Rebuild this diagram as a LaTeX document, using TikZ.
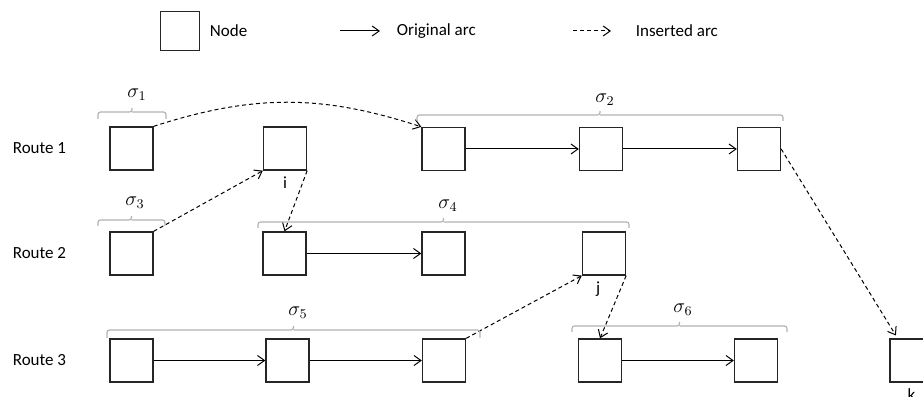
\documentclass[tikz,border=0pt]{standalone}
\usepackage{fontspec}
\setmainfont{Carlito}
\usepackage{tikz}
\usetikzlibrary{arrows.meta}

\tikzset{
  box/.style={draw=black!85, line width=0.8pt, minimum size=25.8pt, inner sep=0pt},
  orig/.style={-{Straight Barb[length=4.2pt,width=6pt]}, line width=0.6pt},
  ins/.style={orig, dash pattern=on 2.4pt off 1.8pt},
  bracket/.style={draw=black!30, line width=0.7pt, rounded corners=1.5pt},
  seg/.style={font=\fontsize{12}{14}\selectfont},
}

\begin{document}
\begin{tikzpicture}[x=0.6pt, y=0.6pt, font=\fontsize{10.2}{12}\selectfont]
\useasboundingbox (0,0) rectangle (923,-397);
% legend
\node [box, minimum size=23.4pt] (legnode) at (180,-31) {};
\node [right] (legnodetxt) at (204,-31) {Node};
\coordinate (origA) at (340,-31);
\coordinate (origB) at (380,-31);
\draw [orig] (origA) -- (origB);
\node [right] (legorig) at (391,-31) {Original arc};
\coordinate (insA) at (573,-31);
\coordinate (insB) at (611,-31);
\draw [ins] (insA) -- (insB);
\node [right] (legins) at (630,-31) {Inserted arc};
% routes
\node [right] (route1) at (7,-148.5) {Route 1};
\node [right] (route2) at (7,-253.5) {Route 2};
\node [right] (route3) at (7,-360.5) {Route 3};
% route 1
\node [box] (n11) at (131.5,-148.5) {};
\node [box] (i) at (285,-148.5) {};
\node [box] (n13) at (443.5,-149) {};
\node [box] (n14) at (601,-149) {};
\node [box] (n15) at (759,-149) {};
% route 2
\node [box] (n21) at (131.5,-253.5) {};
\node [box] (n22) at (284.5,-253.5) {};
\node [box] (n23) at (443.5,-253.5) {};
\node [box] (j) at (604,-253.5) {};
% route 3
\node [box] (n31) at (131.5,-360.5) {};
\node [box] (n32) at (287.5,-360.5) {};
\node [box] (n33) at (444,-360.5) {};
\node [box] (n34) at (600,-360.5) {};
\node [box] (n35) at (756,-360.5) {};
\node [box] (k) at (911.5,-360.5) {};
% i, j, k
\node [below] (ilab) at (i.south) {i};
\node [below] (jlab) at ([xshift=-3.5pt]j.south) {j};
\node [below] (klab) at (k.south) {k};
% arcs
\draw [ins] (n11.north east) to [bend left=18] (n13.north west);
\draw [orig] (n13) -- (n14);
\draw [orig] (n14) -- (n15);
\draw [ins, shorten >=2pt] (n15.east) -- ([xshift=5pt]k.north west);
\draw [ins] (n21.north east) -- (i.south west);
\draw [ins] (i.south east) -- (n22.north);
\draw [orig] (n22) -- (n23);
\draw [orig] (n31) -- (n32);
\draw [orig] (n32) -- (n33);
\draw [ins] (n33.north east) -- (j.south west);
\draw [ins] (j.south east) -- (n34.north);
\draw [orig] (n34) -- (n35);
% segments
\draw [bracket] (98,-119) |- (132,-112) -- (132,-108) (132,-112) -| (166,-119);
\node [seg] (s1) at (137,-95) {$\sigma_1$};
\draw [bracket] (417,-121) |- (600,-115) -- (600,-111) (600,-115) -| (783,-121);
\node [seg] (s2) at (605,-100) {$\sigma_2$};
\draw [bracket] (98,-226) |- (131.5,-220) -- (131.5,-216) (131.5,-220) -| (165,-226);
\node [seg] (s3) at (135,-203) {$\sigma_3$};
\draw [bracket] (258,-228) |- (443.5,-222) -- (443.5,-218) (443.5,-222) -| (629,-228);
\node [seg] (s4) at (448,-206) {$\sigma_4$};
\draw [bracket] (107,-338) |- (293.5,-330) -- (293.5,-326) (293.5,-330) -| (480,-338);
\node [seg] (s5) at (298,-313) {$\sigma_5$};
\draw [bracket] (572,-332) |- (679.5,-326) -- (679.5,-322) (679.5,-326) -| (787,-332);
\node [seg] (s6) at (683,-310) {$\sigma_6$};
\end{tikzpicture}
\end{document}
